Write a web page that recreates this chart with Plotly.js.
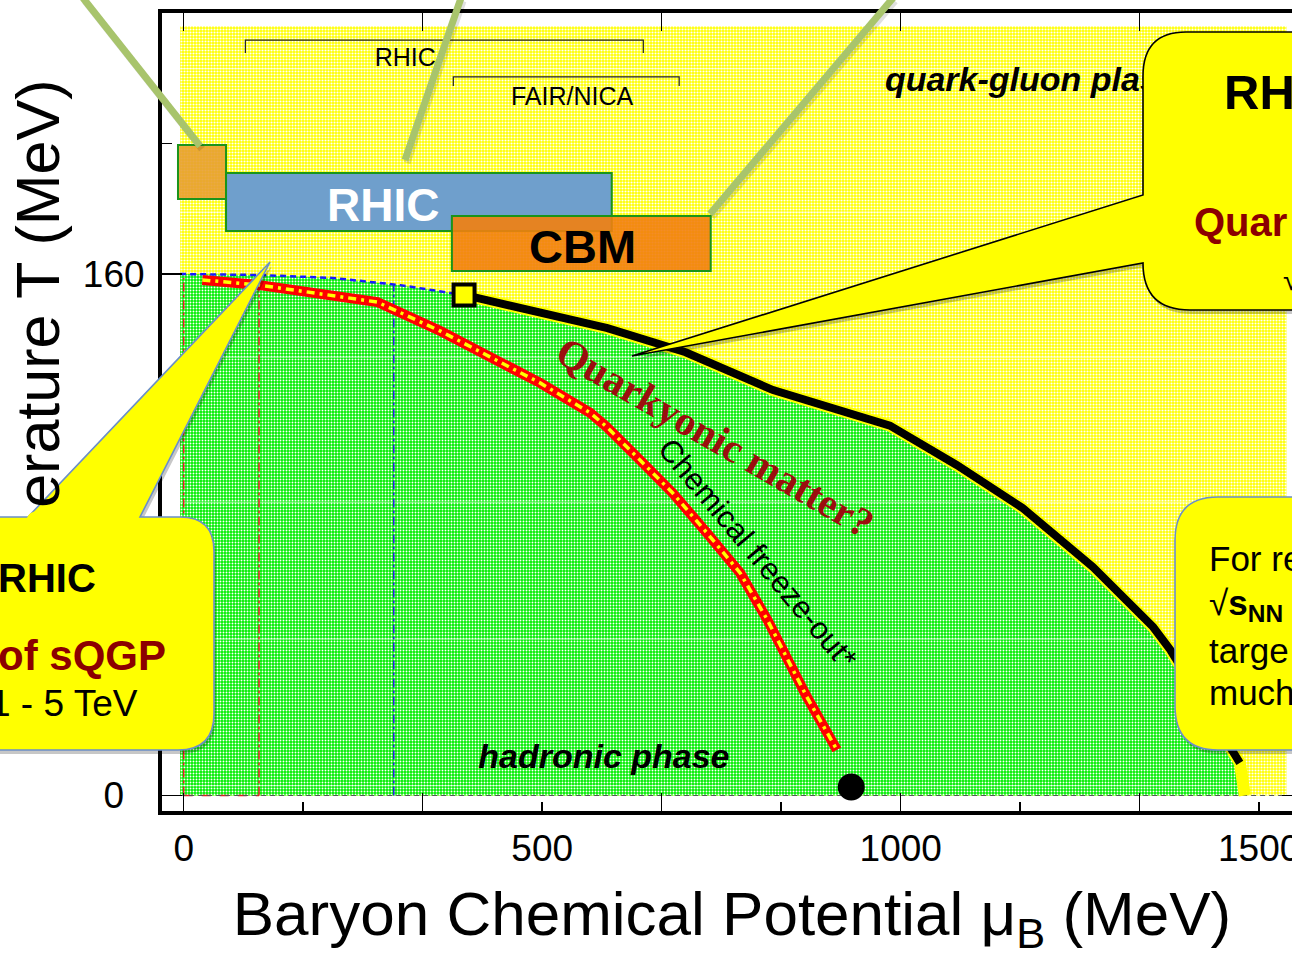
<!DOCTYPE html>
<html><head><meta charset="utf-8">
<script src="https://cdn.plot.ly/plotly-3.0.1.min.js"></script>
<style>html,body{margin:0;padding:0;overflow:hidden;background:#fff}#chart{width:1322px;height:957px}</style>
</head><body><div id="chart"></div>
<script>
// ---------------- data ----------------
const panelMu = [-5, 1538];
const panelT = [0, 236];
const muCrossover = [-5, 107, 208, 302, 372, 391];
const TCrossover = [160, 159.7, 158.8, 156.6, 154.2, 153.6];
const muFirstOrder = [391, 591, 700, 822, 985, 1078, 1170, 1268, 1352, 1376, 1473, 1480];
const TFirstOrder = [153.6, 143.4, 136, 124.4, 113.5, 101.4, 88.2, 70.1, 51.7, 44.7, 10, 0];
const muFreezeOut = [26, 106, 270, 358, 427, 497, 567, 590, 636, 682, 730, 776, 814, 869, 911];
const TFreezeOut = [158.2, 156.6, 151.4, 142.5, 134.6, 126.6, 117.4, 113.1, 103, 92.8, 80.5, 68.3, 53.9, 30.3, 14];
const muCriticalPoint = [391];
const TCriticalPoint = [153.6];
const muNuclearMatter = [931];
const TNuclearMatter = [2.6];
const muGuides = [0, 105, 293];
const TGuideTops = [158.8, 157.5, 156.6];
const textureT = [3, 48, 90, 134.5, 179, 223];
const facilityNames = ['', 'RHIC', 'CBM'];
const facilityMuLo = [-8, 59, 374];
const facilityMuHi = [59, 597, 735];
const facilityTLo = [183, 173.2, 160.9];
const facilityTHi = [199.6, 191, 177.8];
const programNames = ['RHIC', 'FAIR/NICA'];
const programMuLo = [86, 376];
const programMuHi = [641, 691];
const programT = [231.8, 220.5];
const xTickVals = [0, 166.67, 333.33, 500, 666.67, 833.33, 1000, 1166.67, 1333.33, 1500];
const xTickText = ['0', '', '', '500', '', '', '1000', '', '', '1500'];
const xLongTicks = [0, 333.33, 666.67, 1000, 1333.33];
const yTickVals = [0, 40, 80, 120, 160, 200, 240];
const yTickText = ['0\u00a0\u00a0', '', '', '', '160', '', ''];
const yLongTicks = [0, 80, 160, 240];

// ---------------- layout helpers ----------------
const L = 162, TOP = 13, PW = 1140, PH = 798;
const SANS = 'Liberation Sans, Arial, Helvetica, sans-serif';
const SERIF = 'Liberation Serif, Times New Roman, serif';
const px = v => (v - L) / PW;
const py = v => (TOP + PH - v) / PH;
const pxPath = (s, dx = 0, dy = 0) => s.replace(/(-?\d+(?:\.\d+)?),(-?\d+(?:\.\d+)?)/g,
  (m, a, b) => px(+a + dx).toFixed(5) + ',' + py(+b + dy).toFixed(5));

const traces = [];
// yellow (QGP) panel
traces.push({x: [panelMu[0], panelMu[1], panelMu[1], panelMu[0]], y: [panelT[0], panelT[0], panelT[1], panelT[1]],
  mode: 'lines', fill: 'toself', line: {width: 0}, fillcolor: '#ffff60',
  fillpattern: {shape: '.', bgcolor: '#ffff00', fgcolor: '#ffffff', size: 3, solidity: 0.4}, hoverinfo: 'skip'});
// green (hadronic) region
traces.push({x: [panelMu[0]].concat(muCrossover, muFirstOrder.slice(1)),
  y: [panelT[0]].concat(TCrossover, TFirstOrder.slice(1)),
  mode: 'lines', fill: 'toself', line: {width: 0}, fillcolor: '#44f044',
  fillpattern: {shape: '.', bgcolor: '#00ee00', fgcolor: '#ffffff', size: 3, solidity: 0.32}, hoverinfo: 'skip'});
// faint texture rows
const texX = [], texY = [];
textureT.forEach(t => { texX.push(panelMu[0], panelMu[1], null); texY.push(t, t, null); });
traces.push({x: texX, y: texY, mode: 'lines', line: {color: 'rgba(255,255,255,0.6)', width: 1}, hoverinfo: 'skip'});
// guide lines
const guideColors = ['#e02020', '#e02020', '#2020e0'];
muGuides.forEach((m, i) => traces.push({x: [m, m], y: [0, TGuideTops[i]], mode: 'lines',
  line: {color: guideColors[i], width: 1.5, dash: 'dashdot'}, hoverinfo: 'skip'}));
traces.push({x: [muGuides[0], muGuides[1]], y: [0, 0], mode: 'lines', line: {color: '#e02020', width: 1.5, dash: 'dash'}, hoverinfo: 'skip'});
traces.push({x: panelMu, y: [0, 0], mode: 'lines', line: {color: '#555', width: 1, dash: '5px,4px'}, hoverinfo: 'skip'});
// crossover (blue dashed)
traces.push({x: muCrossover, y: TCrossover, mode: 'lines', line: {color: '#1a1aff', width: 2.5, dash: '6px,4px'}, hoverinfo: 'skip'});
// first order line
traces.push({x: muFirstOrder, y: TFirstOrder, mode: 'lines', line: {color: '#ffff00', width: 12}, hoverinfo: 'skip'});
traces.push({x: muFirstOrder.slice(0, -1), y: TFirstOrder.slice(0, -1), mode: 'lines', line: {color: '#000', width: 8}, hoverinfo: 'skip'});
// chemical freeze-out
traces.push({x: muFreezeOut, y: TFreezeOut, mode: 'lines', line: {color: '#ff0000', width: 10}, hoverinfo: 'skip'});
traces.push({x: muFreezeOut, y: TFreezeOut, mode: 'lines', line: {color: '#ffff00', width: 3.5, dash: '8px,5px,3px,5px'}, hoverinfo: 'skip'});
// points
traces.push({x: muCriticalPoint, y: TCriticalPoint, mode: 'markers',
  marker: {symbol: 'square', size: 21, color: '#ffff00', line: {color: '#000', width: 4}}, hoverinfo: 'skip'});
traces.push({x: muNuclearMatter, y: TNuclearMatter, mode: 'markers', marker: {size: 27, color: '#000'}, hoverinfo: 'skip'});
// program brackets
const bracketDrop = [4.0, 2.8];
programNames.forEach((n, i) => traces.push({x: [programMuLo[i], programMuLo[i], programMuHi[i], programMuHi[i]],
  y: [programT[i] - bracketDrop[i], programT[i], programT[i], programT[i] - bracketDrop[i]],
  mode: 'lines', line: {color: '#222', width: 1.2}, hoverinfo: 'skip'}));
traces.push({x: [309, 541.6], y: [225.7, 213.7], mode: 'text', text: programNames,
  textposition: 'middle center', textfont: {family: SANS, size: 25, color: '#000'}, hoverinfo: 'skip'});
// region labels
traces.push({x: [978], y: [218.9], mode: 'text', text: ['<b><i>quark-gluon plasma</i></b>'],
  textposition: 'middle right', textfont: {family: SANS, size: 34, color: '#000'}, hoverinfo: 'skip'});
traces.push({x: [586], y: [10.9], mode: 'text', text: ['<b><i>hadronic phase</i></b>'],
  textposition: 'middle center', textfont: {family: SANS, size: 34, color: '#000'}, hoverinfo: 'skip'});
// overlay axes carrier
traces.push({x: [], y: [], xaxis: 'x2', yaxis: 'y2', mode: 'markers', hoverinfo: 'skip'});

// ---------------- shapes ----------------
const shapes = [];
const facilityFills = ['rgba(232,160,50,0.9)', '#6f9fcc', 'rgba(242,128,16,0.9)'];
facilityNames.forEach((n, i) => shapes.push({type: 'rect', xref: 'x', yref: 'y', layer: 'above',
  x0: facilityMuLo[i], x1: facilityMuHi[i], y0: facilityTLo[i], y1: facilityTHi[i],
  fillcolor: facilityFills[i], line: {color: '#1a941a', width: 2}}));
const c1 = 'M -40,517 L 28,517 L 270,262 L 140,517 L 180,517 Q 214,517 214,551 L 214,714 Q 214,750 178,750 L -40,750 Z';
const c2 = 'M 1340,32 L 1186,32 Q 1143,32 1143,76 L 1143,195 L 632,356 L 1143,263 Q 1143,310 1190,310 L 1340,310 Z';
const c3 = 'M 1340,497 L 1218,497 Q 1175,497 1175,540 L 1175,706 Q 1175,750 1218,750 L 1340,750 Z';
[[c1, '#6b8fc7'], [c2, '#000'], [c3, '#6b8fc7']].forEach(([p, col]) => {
  shapes.push({type: 'path', xref: 'paper', yref: 'paper', layer: 'above', path: pxPath(p, 2, 4),
    fillcolor: 'rgba(0,0,0,0.22)', line: {width: 0}});
  shapes.push({type: 'path', xref: 'paper', yref: 'paper', layer: 'above', path: pxPath(p),
    fillcolor: '#ffff00', line: {color: col, width: 1.6}});
});
[[83, -2, 200, 146], [461, -2, 405, 160], [893, -2, 710, 214]].forEach(([a, b, c, d]) => {
  shapes.push({type: 'line', xref: 'paper', yref: 'paper', layer: 'above', x0: px(a + 2), y0: py(b + 3), x1: px(c + 2), y1: py(d + 3),
    line: {color: 'rgba(0,0,0,0.12)', width: 7}});
  shapes.push({type: 'line', xref: 'paper', yref: 'paper', layer: 'above', x0: px(a), y0: py(b), x1: px(c), y1: py(d),
    line: {color: '#a8c46c', width: 7}});
});

// ---------------- annotations ----------------
const pa = (x, y, text, size, opts = {}) => Object.assign({xref: 'paper', yref: 'paper', x: px(x), y: py(y), text,
  showarrow: false, xanchor: 'left', yanchor: 'middle', font: {family: SANS, size, color: '#000'}}, opts);
const annotations = [
  pa(38, 369, '<span style="color:#ffff00">Temp</span>erature T (MeV)', 61, {xanchor: 'center', textangle: -90}),
  {xref: 'x', yref: 'y', x: 278, y: 181.2, text: '<b>RHIC</b>', showarrow: false, font: {family: SANS, size: 46, color: '#fff'}},
  {xref: 'x', yref: 'y', x: 556, y: 168.6, text: '<b>CBM</b>', showarrow: false, font: {family: SANS, size: 47, color: '#000'}},
  {xref: 'x', yref: 'y', x: 741, y: 110, text: '<b>Quarkyonic matter?</b>', textangle: 30, showarrow: false,
    font: {family: SERIF, size: 41, color: '#9b0e0e'}},
  {xref: 'x', yref: 'y', x: 800, y: 74.3, text: 'Chemical freeze-out*', textangle: 50, showarrow: false,
    font: {family: SANS, size: 31, color: '#000'}},
  pa(98, 578, '<b>RHIC</b>', 40, {xanchor: 'right'}),
  pa(168, 655, '<b>of sQGP</b>', 42, {xanchor: 'right', font: {family: SANS, size: 42, color: '#8b0000'}}),
  pa(140, 703, '1 - 5 TeV', 37, {xanchor: 'right'}),
  pa(1222, 92, '<b>RH</b>', 49),
  pa(1192, 222, '<b>Quar</b>', 40, {font: {family: SANS, size: 40, color: '#8b0000'}}),
  pa(1281, 279, '√', 30),
  pa(1207, 558, 'For re', 35),
  pa(1207, 605, '√<b>s<sub>NN</sub></b>', 35),
  pa(1207, 650, 'targe', 35),
  pa(1207, 692, 'much', 35)
];

const axisCommon = {showgrid: false, zeroline: false, tickcolor: '#000', tickwidth: 1.5, ticks: 'inside'};
const layout = {
  width: 1322, height: 957, margin: {l: L, r: 1322 - L - PW, t: TOP, b: 957 - TOP - PH},
  paper_bgcolor: '#fff', plot_bgcolor: '#fff', showlegend: false,
  xaxis: Object.assign({}, axisCommon, {range: [-30.3, 1559.7], showline: true, linewidth: 4, linecolor: '#000', mirror: true,
    ticklen: 9, tickmode: 'array', tickvals: xTickVals, ticktext: xTickText, ticklabelstandoff: 2,
    tickfont: {family: SANS, size: 37, color: '#000'},
    title: {text: 'Baryon Chemical Potential μ<sub>B</sub> (MeV)', font: {family: SANS, size: 62, color: '#000'}, standoff: 28}}),
  yaxis: Object.assign({}, axisCommon, {range: [-4.76, 240.1], showline: true, linewidth: 4, linecolor: '#000', mirror: true,
    ticklen: 10, tickmode: 'array', tickvals: yTickVals, ticktext: yTickText, ticklabelstandoff: 6,
    tickfont: {family: SANS, size: 37, color: '#000'}}),
  xaxis2: Object.assign({}, axisCommon, {overlaying: 'x', anchor: 'y2', side: 'bottom', range: [-30.3, 1559.7], ticklen: 18,
    tickmode: 'array', tickvals: xLongTicks, showticklabels: false, showline: false, mirror: 'ticks'}),
  yaxis2: Object.assign({}, axisCommon, {overlaying: 'y', anchor: 'x2', side: 'left', range: [-4.76, 240.1], ticklen: 20,
    tickmode: 'array', tickvals: yLongTicks, showticklabels: false, showline: false, mirror: 'ticks'}),
  shapes, annotations
};
Plotly.newPlot('chart', traces, layout, {staticPlot: true, displayModeBar: false});
</script></body></html>
